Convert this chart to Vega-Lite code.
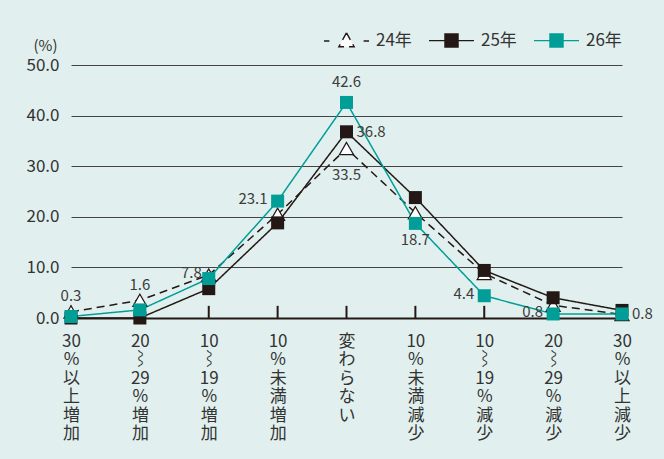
{
  "$schema": "https://vega.github.io/schema/vega-lite/v6.json",
  "width": 561,
  "height": 253,
  "autosize": {"type": "none"},
  "padding": {"left": 71, "top": 65, "right": 32, "bottom": 141},
  "background": "#e1f0ee",
  "config": {
    "view": {"stroke": null},
    "font": "Noto Sans CJK JP",
    "text": {"font": "Noto Sans CJK JP"}
  },
  "data": {
    "values": [
      {"cat": "30%以上増加", "series": "24年", "value": 1.2},
      {"cat": "20~29%増加", "series": "24年", "value": 3.5},
      {"cat": "10~19%増加", "series": "24年", "value": 8.5},
      {"cat": "10%未満増加", "series": "24年", "value": 20.5},
      {"cat": "変わらない", "series": "24年", "value": 33.5},
      {"cat": "10%未満減少", "series": "24年", "value": 20.8},
      {"cat": "10~19%減少", "series": "24年", "value": 8.8},
      {"cat": "20~29%減少", "series": "24年", "value": 2.5},
      {"cat": "30%以上減少", "series": "24年", "value": 0.7},
      {"cat": "30%以上増加", "series": "25年", "value": 0.0},
      {"cat": "20~29%増加", "series": "25年", "value": 0.0},
      {"cat": "10~19%増加", "series": "25年", "value": 5.8},
      {"cat": "10%未満増加", "series": "25年", "value": 18.8},
      {"cat": "変わらない", "series": "25年", "value": 36.8},
      {"cat": "10%未満減少", "series": "25年", "value": 23.8},
      {"cat": "10~19%減少", "series": "25年", "value": 9.4},
      {"cat": "20~29%減少", "series": "25年", "value": 4.0},
      {"cat": "30%以上減少", "series": "25年", "value": 1.5},
      {"cat": "30%以上増加", "series": "26年", "value": 0.3},
      {"cat": "20~29%増加", "series": "26年", "value": 1.6},
      {"cat": "10~19%増加", "series": "26年", "value": 7.8},
      {"cat": "10%未満増加", "series": "26年", "value": 23.1},
      {"cat": "変わらない", "series": "26年", "value": 42.6},
      {"cat": "10%未満減少", "series": "26年", "value": 18.7},
      {"cat": "10~19%減少", "series": "26年", "value": 4.4},
      {"cat": "20~29%減少", "series": "26年", "value": 0.8},
      {"cat": "30%以上減少", "series": "26年", "value": 0.8}
    ]
  },
  "encoding": {
    "x": {
      "field": "cat",
      "type": "nominal",
      "sort": null,
      "scale": {
        "type": "point",
        "domain": ["30%以上増加", "20~29%増加", "10~19%増加", "10%未満増加", "変わらない", "10%未満減少", "10~19%減少", "20~29%減少", "30%以上減少"],
        "range": [0, 551],
        "padding": 0
      },
      "axis": {
        "title": null,
        "labelAngle": 0,
        "labelExpr": "split(replace(replace(replace(datum.value, regexp('~','g'), '⌇'), regexp('(.)(?!$)','g'), '$1|'), regexp('([0-9])[|](?=[0-9])','g'), '$1'), '|')",
        "labelFontSize": 17,
        "labelLineHeight": 18.5,
        "labelColor": "#333333",
        "labelBaseline": "top",
        "labelPadding": 15,
        "labelOverlap": false,
        "ticks": false,
        "domain": false,
        "grid": false
      }
    },
    "y": {
      "field": "value",
      "type": "quantitative",
      "scale": {"domain": [0, 50], "nice": false},
      "axis": {
        "values": [0, 10, 20, 30, 40, 50],
        "format": ".1f",
        "labelFontSize": 17,
        "labelColor": "#333333",
        "labelPadding": 12,
        "ticks": false,
        "domain": false,
        "gridColor": {"condition": {"test": "datum.value === 0", "value": "#231815"}, "value": "#444444"},
        "gridWidth": {"condition": {"test": "datum.value === 0", "value": 2}, "value": 1},
        "title": "(%)",
        "titleAngle": 0,
        "titleX": -26,
        "titleY": -20,
        "titleAlign": "center",
        "titleBaseline": "middle",
        "titleFontSize": 15,
        "titleFontWeight": "normal",
        "titleColor": "#333333"
      }
    }
  },
  "layer": [
    {
      "transform": [{"filter": "datum.series === '25年'"}],
      "mark": {"type": "rule", "color": "#231815", "strokeWidth": 2, "opacity": 1},
      "encoding": {
        "y": {"datum": 0},
        "y2": {"datum": 2.4}
      }
    },
    {
      "mark": {"type": "line", "strokeWidth": 1.5},
      "encoding": {
        "color": {
          "field": "series",
          "type": "nominal",
          "scale": {"domain": ["24年", "25年", "26年"], "range": ["#231815", "#231815", "#009e96"]},
          "legend": {
            "title": null,
            "orient": "none",
            "legendX": 252,
            "legendY": -48,
            "direction": "horizontal",
            "symbolSize": 2025,
            "labelFontSize": 17,
            "labelColor": "#333333",
            "labelOffset": 6,
            "columnPadding": 14,
            "padding": 0,
            "encode": {
              "symbols": {
                "update": {
                  "shape": {"signal": "datum.value === '24年' ? 'M-1,0H-0.76M0.76,0H1M0,-0.36L0.34,0.26L-0.34,0.26Z' : 'M-1,0H1M-0.29,-0.29H0.29V0.29H-0.29Z'"},
                  "fill": {"signal": "datum.value === '24年' ? '#ffffff' : datum.value === '25年' ? '#231815' : '#009e96'"},
                  "stroke": {"signal": "datum.value === '26年' ? '#009e96' : '#231815'"},
                  "strokeDash": {"value": []},
                  "strokeWidth": {"value": 1.4},
                  "opacity": {"value": 1}
                }
              }
            }
          }
        },
        "strokeDash": {
          "field": "series",
          "type": "nominal",
          "scale": {"domain": ["24年", "25年", "26年"], "range": [[8, 5], [1, 0], [1, 0]]},
          "legend": null
        }
      }
    },
    {
      "transform": [{"filter": "datum.series === '24年'"}],
      "mark": {"type": "point", "shape": "triangle-up", "filled": true, "fill": "#ffffff", "stroke": "#231815", "strokeWidth": 1.2, "size": 200, "opacity": 1}
    },
    {
      "transform": [{"filter": "datum.series === '25年'"}],
      "mark": {"type": "point", "shape": "square", "filled": true, "fill": "#231815", "stroke": "#231815", "strokeWidth": 0, "size": 169, "opacity": 1}
    },
    {
      "transform": [{"filter": "datum.series === '26年'"}],
      "mark": {"type": "point", "shape": "square", "filled": true, "fill": "#009e96", "stroke": "#009e96", "strokeWidth": 0, "size": 169, "opacity": 1}
    },
    {
      "transform": [{"filter": "datum.series === '26年' && (datum.cat === '30%以上増加' || datum.cat === '変わらない')"}],
      "mark": {"type": "text", "dy": -20, "align": "center", "baseline": "middle", "fontSize": 15, "color": "#3c3c3c"},
      "encoding": {"text": {"field": "value", "format": ".1f"}}
    },
    {
      "transform": [{"filter": "datum.series === '26年' && datum.cat === '20~29%増加'"}],
      "mark": {"type": "text", "dy": -25, "align": "center", "baseline": "middle", "fontSize": 15, "color": "#3c3c3c"},
      "encoding": {"text": {"field": "value", "format": ".1f"}}
    },
    {
      "transform": [{"filter": "datum.series === '26年' && datum.cat === '10~19%増加'"}],
      "mark": {"type": "text", "dx": -7, "dy": -6, "align": "right", "baseline": "middle", "fontSize": 15, "color": "#3c3c3c"},
      "encoding": {"text": {"field": "value", "format": ".1f"}}
    },
    {
      "transform": [{"filter": "datum.series === '26年' && (datum.cat === '10%未満増加' || datum.cat === '10~19%減少' || datum.cat === '20~29%減少')"}],
      "mark": {"type": "text", "dx": -10, "dy": -2, "align": "right", "baseline": "middle", "fontSize": 15, "color": "#3c3c3c"},
      "encoding": {"text": {"field": "value", "format": ".1f"}}
    },
    {
      "transform": [{"filter": "(datum.series === '26年' && datum.cat === '30%以上減少') || (datum.series === '25年' && datum.cat === '変わらない')"}],
      "mark": {"type": "text", "dx": 10, "dy": 0, "align": "left", "baseline": "middle", "fontSize": 15, "color": "#3c3c3c"},
      "encoding": {"text": {"field": "value", "format": ".1f"}}
    },
    {
      "transform": [{"filter": "datum.series === '24年' && datum.cat === '変わらない'"}],
      "mark": {"type": "text", "dy": 27, "align": "center", "baseline": "middle", "fontSize": 15, "color": "#3c3c3c"},
      "encoding": {"text": {"field": "value", "format": ".1f"}}
    },
    {
      "transform": [{"filter": "datum.series === '26年' && datum.cat === '10%未満減少'"}],
      "mark": {"type": "text", "dy": 17, "align": "center", "baseline": "middle", "fontSize": 15, "color": "#3c3c3c"},
      "encoding": {"text": {"field": "value", "format": ".1f"}}
    }
  ]
}
